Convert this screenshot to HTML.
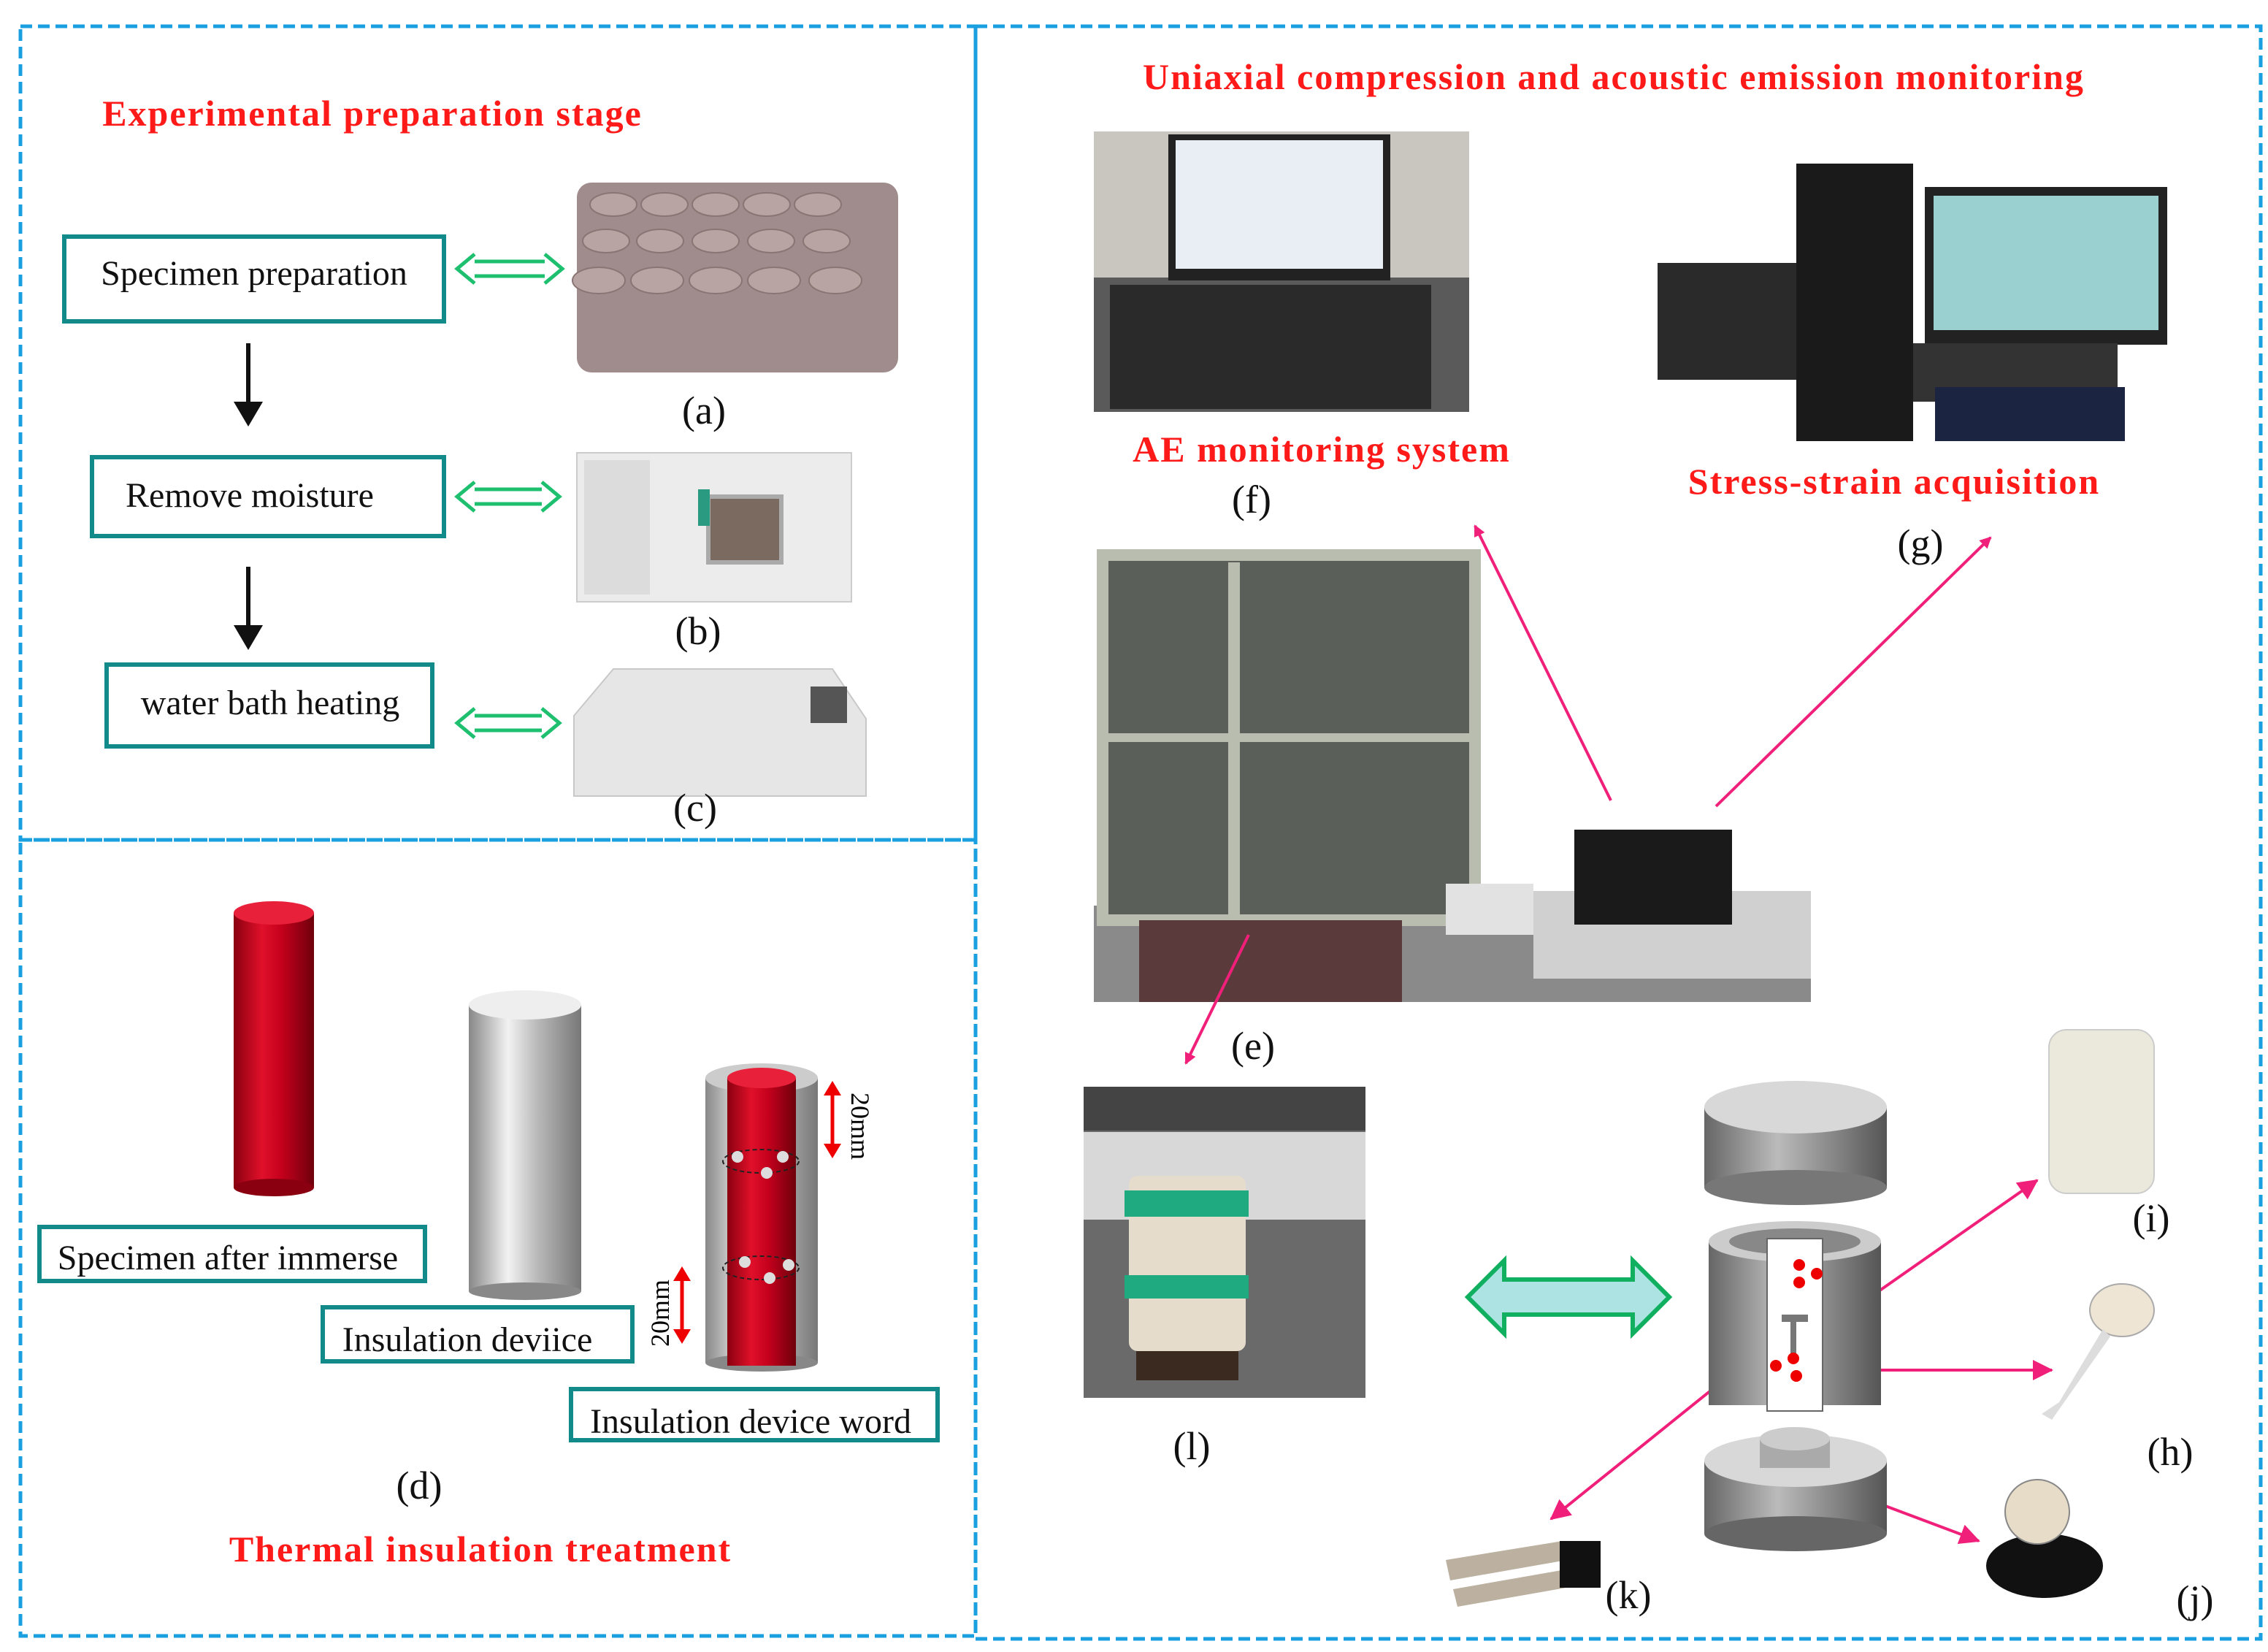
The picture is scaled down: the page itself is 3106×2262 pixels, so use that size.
<!DOCTYPE html>
<html><head><meta charset="utf-8"><style>
html,body{margin:0;padding:0;background:#fff;width:3106px;height:2262px;overflow:hidden}
svg{display:block}
text{font-family:"Liberation Serif",serif}
.t{fill:#ff1a1a;font-weight:bold;font-size:25px;letter-spacing:1px;text-anchor:middle}
.b{font-size:24px;text-anchor:middle;fill:#111}
.l{font-size:27px;text-anchor:middle;fill:#111}
</style></head><body>
<svg width="3106" height="2262" viewBox="0 0 1553 1131" xmlns="http://www.w3.org/2000/svg">
<defs>
<linearGradient id="red" x1="0" x2="1"><stop offset="0" stop-color="#8a0010"/><stop offset=".35" stop-color="#e0102a"/><stop offset=".6" stop-color="#c4001c"/><stop offset="1" stop-color="#6e000c"/></linearGradient>
<linearGradient id="gr" x1="0" x2="1"><stop offset="0" stop-color="#888"/><stop offset=".35" stop-color="#f2f2f2"/><stop offset=".6" stop-color="#bbb"/><stop offset="1" stop-color="#777"/></linearGradient>
<linearGradient id="dg" x1="0" x2="1"><stop offset="0" stop-color="#666"/><stop offset=".4" stop-color="#bbb"/><stop offset="1" stop-color="#555"/></linearGradient>
<marker id="pk" markerWidth="8" markerHeight="8" refX="7" refY="4" orient="auto" markerUnits="userSpaceOnUse" viewBox="0 0 8 8"><path d="M0,0L8,4L0,8z" fill="#f0207a"/></marker>
<marker id="pk2" markerWidth="14" markerHeight="14" refX="13" refY="7" orient="auto" markerUnits="userSpaceOnUse" viewBox="0 0 14 14"><path d="M0,0L14,7L0,14z" fill="#f0207a"/></marker>
</defs>
<g fill="none" stroke="#1aa0e0" stroke-width="2.5" stroke-dasharray="8,4">
<rect x="14" y="18" width="654" height="557"/>
<rect x="14" y="575" width="654" height="545"/>
<rect x="668" y="18" width="880" height="1104"/>
</g>
<text class="t" x="255" y="86">Experimental preparation stage</text>
<text class="t" x="1105" y="61">Uniaxial compression and acoustic emission monitoring</text>
<g fill="#fff" stroke="#138a8a" stroke-width="3">
<rect x="44" y="162" width="260" height="58"/>
<rect x="63" y="313" width="241" height="54"/>
<rect x="73" y="455" width="223" height="56"/>
<rect x="27" y="840" width="264" height="37"/>
<rect x="221" y="895" width="212" height="37"/>
<rect x="391" y="951" width="251" height="35"/>
</g>
<text class="b" x="174" y="195">Specimen preparation</text>
<text class="b" x="171" y="347">Remove moisture</text>
<text class="b" x="185" y="489">water bath heating</text>
<text class="b" x="156" y="869" font-size="20">Specimen after immerse</text>
<text class="b" x="320" y="925" font-size="20">Insulation deviice</text>
<text class="b" x="514" y="981" font-size="20">Insulation device word</text>
<g stroke="#111" stroke-width="3"><line x1="170" y1="235" x2="170" y2="280"/><line x1="170" y1="388" x2="170" y2="433"/></g>
<path d="M160,275L170,292L180,275z M160,428L170,445L180,428z" fill="#111"/>
<g fill="none" stroke="#1ec070" stroke-width="2.5">
<path d="M325,179H373M325,189H373M325,174L313,184L325,194M373,174L385,184L373,194"/>
<path d="M325,335H371M325,345H371M325,330L313,340L325,350M371,330L383,340L371,350"/>
<path d="M325,490H371M325,500H371M325,485L313,495L325,505M371,485L383,495L371,505"/>
</g>
<g>
<rect x="395" y="125" width="220" height="130" fill="#a08c8c" rx="10"/>
<g fill="#b9a4a4" stroke="#8a7575" stroke-width="1">
<ellipse cx="420" cy="140" rx="16" ry="8"/><ellipse cx="455" cy="140" rx="16" ry="8"/><ellipse cx="490" cy="140" rx="16" ry="8"/><ellipse cx="525" cy="140" rx="16" ry="8"/><ellipse cx="560" cy="140" rx="16" ry="8"/>
<ellipse cx="415" cy="165" rx="16" ry="8"/><ellipse cx="452" cy="165" rx="16" ry="8"/><ellipse cx="490" cy="165" rx="16" ry="8"/><ellipse cx="528" cy="165" rx="16" ry="8"/><ellipse cx="566" cy="165" rx="16" ry="8"/>
<ellipse cx="410" cy="192" rx="18" ry="9"/><ellipse cx="450" cy="192" rx="18" ry="9"/><ellipse cx="490" cy="192" rx="18" ry="9"/><ellipse cx="530" cy="192" rx="18" ry="9"/><ellipse cx="572" cy="192" rx="18" ry="9"/>
</g>
</g>
<text class="l" x="482" y="290">(a)</text>
<rect x="395" y="310" width="188" height="102" fill="#ececec" stroke="#ccc"/>
<rect x="400" y="315" width="45" height="92" fill="#dcdcdc"/>
<rect x="485" y="340" width="50" height="45" fill="#7a6a60" stroke="#aaa" stroke-width="3"/>
<rect x="478" y="335" width="8" height="25" fill="#2a9a80"/>
<text class="l" x="478" y="441">(b)</text>
<path d="M393,490L420,458H570L593,492V545H393z" fill="#e6e6e6" stroke="#c8c8c8"/>
<rect x="555" y="470" width="25" height="25" fill="#555"/>
<text class="l" x="476" y="562">(c)</text>
<rect x="160" y="625" width="55" height="188" fill="url(#red)"/>
<ellipse cx="187.5" cy="625" rx="27.5" ry="8" fill="#e8203a"/>
<ellipse cx="187.5" cy="813" rx="27.5" ry="6" fill="#8a0010"/>
<rect x="321" y="688" width="77" height="196" fill="url(#gr)"/>
<ellipse cx="359.5" cy="688" rx="38.5" ry="10" fill="#eee"/>
<ellipse cx="359.5" cy="884" rx="38.5" ry="6" fill="#888"/>
<rect x="483" y="738" width="77" height="195" fill="url(#gr)"/>
<ellipse cx="521.5" cy="933" rx="38.5" ry="6" fill="#888"/>
<ellipse cx="521.5" cy="738" rx="38.5" ry="10" fill="#ccc"/>
<rect x="498" y="738" width="47" height="197" fill="url(#red)"/>
<ellipse cx="521.5" cy="738" rx="23.5" ry="7" fill="#e8203a"/>
<g fill="none" stroke="#222" stroke-dasharray="3,2"><ellipse cx="521" cy="795" rx="26" ry="8"/><ellipse cx="521" cy="868" rx="26" ry="8"/></g>
<g fill="#ddd"><circle cx="505" cy="792" r="4"/><circle cx="536" cy="792" r="4"/><circle cx="525" cy="803" r="4"/><circle cx="510" cy="864" r="4"/><circle cx="527" cy="875" r="4"/><circle cx="540" cy="866" r="4"/></g>
<g stroke="#e00" stroke-width="2.5"><line x1="570" y1="748" x2="570" y2="785"/><line x1="467" y1="875" x2="467" y2="912"/></g>
<path d="M564,750L570,740L576,750zM564,783L570,793L576,783zM461,877L467,867L473,877zM461,910L467,920L473,910z" fill="#e00"/>
<text font-size="18" transform="translate(583,748) rotate(90)">20mm</text>
<text font-size="18" transform="translate(458,922) rotate(-90)">20mm</text>
<text class="l" x="287" y="1026">(d)</text>
<text class="t" x="329" y="1069">Thermal insulation treatment</text>
<rect x="749" y="90" width="257" height="192" fill="#5a5a5a"/>
<rect x="749" y="90" width="257" height="100" fill="#c9c6c0"/>
<rect x="800" y="92" width="152" height="100" fill="#222"/><rect x="805" y="96" width="142" height="88" fill="#e8eef4"/>
<rect x="760" y="195" width="220" height="85" fill="#2a2a2a"/>
<text class="t" x="905" y="316">AE monitoring system</text>
<text class="l" x="857" y="351">(f)</text>
<rect x="1135" y="180" width="95" height="80" fill="#2a2a2a"/>
<rect x="1230" y="112" width="80" height="190" fill="#1a1a1a"/>
<rect x="1318" y="128" width="166" height="108" fill="#222"/><rect x="1324" y="134" width="154" height="92" fill="#9ad0d0"/>
<rect x="1310" y="235" width="140" height="40" fill="#333"/>
<rect x="1325" y="265" width="130" height="37" fill="#1b2440"/>
<text class="t" x="1297" y="338">Stress-strain acquisition</text>
<text class="l" x="1315" y="381">(g)</text>
<rect x="749" y="620" width="491" height="66" fill="#8a8a8a"/>
<rect x="755" y="380" width="255" height="250" fill="#5a5f5a" stroke="#b8bdb0" stroke-width="8"/>
<line x1="845" y1="385" x2="845" y2="630" stroke="#b8bdb0" stroke-width="8"/>
<line x1="755" y1="505" x2="1010" y2="505" stroke="#b8bdb0" stroke-width="6"/>
<rect x="780" y="630" width="180" height="56" fill="#5a3a3a"/>
<rect x="1050" y="610" width="190" height="60" fill="#d0d0d0"/>
<rect x="1078" y="568" width="108" height="65" fill="#1a1a1a"/>
<rect x="990" y="605" width="60" height="35" fill="#e2e2e2"/>
<text class="l" x="858" y="725">(e)</text>
<g stroke="#f0207a" stroke-width="2" fill="none">
<line x1="1103" y1="548" x2="1010" y2="360" marker-end="url(#pk)"/>
<line x1="1175" y1="552" x2="1363" y2="368" marker-end="url(#pk)"/>
<line x1="855" y1="640" x2="812" y2="728" marker-end="url(#pk)"/>
<line x1="1285" y1="885" x2="1395" y2="808" marker-end="url(#pk2)"/>
<line x1="1225" y1="938" x2="1405" y2="938" marker-end="url(#pk2)"/>
<line x1="1235" y1="1010" x2="1355" y2="1055" marker-end="url(#pk2)"/>
<line x1="1205" y1="925" x2="1062" y2="1040" marker-end="url(#pk2)"/>
</g>
<rect x="742" y="744" width="193" height="213" fill="#6a6a6a"/>
<rect x="742" y="744" width="193" height="30" fill="#444"/>
<rect x="742" y="775" width="193" height="60" fill="#d8d8d8"/>
<rect x="773" y="805" width="80" height="120" fill="#e6dccb" rx="6"/>
<rect x="770" y="815" width="85" height="18" fill="#1faa80"/><rect x="770" y="873" width="85" height="16" fill="#1faa80"/>
<rect x="778" y="925" width="70" height="20" fill="#3a2a20"/>
<text class="l" x="816" y="999">(l)</text>
<path d="M1005,888L1030,863V876H1118V863L1143,888L1118,913V900H1030V913z" fill="#aee3e3" stroke="#10b060" stroke-width="3"/>
<rect x="1167" y="758" width="125" height="55" fill="url(#dg)"/>
<ellipse cx="1229.5" cy="813" rx="62.5" ry="12" fill="#777"/>
<ellipse cx="1229.5" cy="758" rx="62.5" ry="18" fill="#d8d8d8"/>
<rect x="1170" y="850" width="118" height="112" fill="url(#dg)"/>
<ellipse cx="1229" cy="850" rx="59" ry="14" fill="#ccc"/>
<ellipse cx="1229" cy="850" rx="45" ry="9" fill="#888"/>
<rect x="1210" y="848" width="38" height="118" fill="#fff" stroke="#666"/>
<rect x="1226" y="902" width="4" height="25" fill="#777"/><rect x="1220" y="900" width="18" height="5" fill="#777"/>
<g fill="#e00"><circle cx="1232" cy="866" r="4"/><circle cx="1244" cy="872" r="4"/><circle cx="1232" cy="878" r="4"/><circle cx="1216" cy="935" r="4"/><circle cx="1228" cy="930" r="4"/><circle cx="1230" cy="942" r="4"/></g>
<rect x="1167" y="1000" width="125" height="50" fill="url(#dg)"/>
<ellipse cx="1229.5" cy="1050" rx="62.5" ry="12" fill="#666"/>
<ellipse cx="1229.5" cy="1000" rx="62.5" ry="18" fill="#d8d8d8"/>
<rect x="1205" y="985" width="48" height="20" fill="#aaa"/><ellipse cx="1229" cy="985" rx="24" ry="8" fill="#ccc"/>
<rect x="1403" y="705" width="72" height="112" rx="12" fill="#ebe8dc" stroke="#ccc"/>
<text class="l" x="1473" y="843">(i)</text>
<ellipse cx="1453" cy="897" rx="22" ry="18" fill="#eee5d5" stroke="#aaa"/>
<path d="M1440,910L1410,960L1398,968L1405,972L1445,915z" fill="#ddd"/>
<text class="l" x="1486" y="1003">(h)</text>
<ellipse cx="1400" cy="1072" rx="40" ry="22" fill="#111"/>
<circle cx="1395" cy="1035" r="22" fill="#e6dcc8" stroke="#888"/>
<text class="l" x="1503" y="1104">(j)</text>
<path d="M990,1068L1070,1055L1073,1068L993,1082z M995,1088L1075,1074L1078,1086L998,1100z" fill="#bcb0a0"/>
<rect x="1068" y="1055" width="28" height="32" fill="#111"/>
<text class="l" x="1115" y="1101">(k)</text>
</svg>
</body></html>
